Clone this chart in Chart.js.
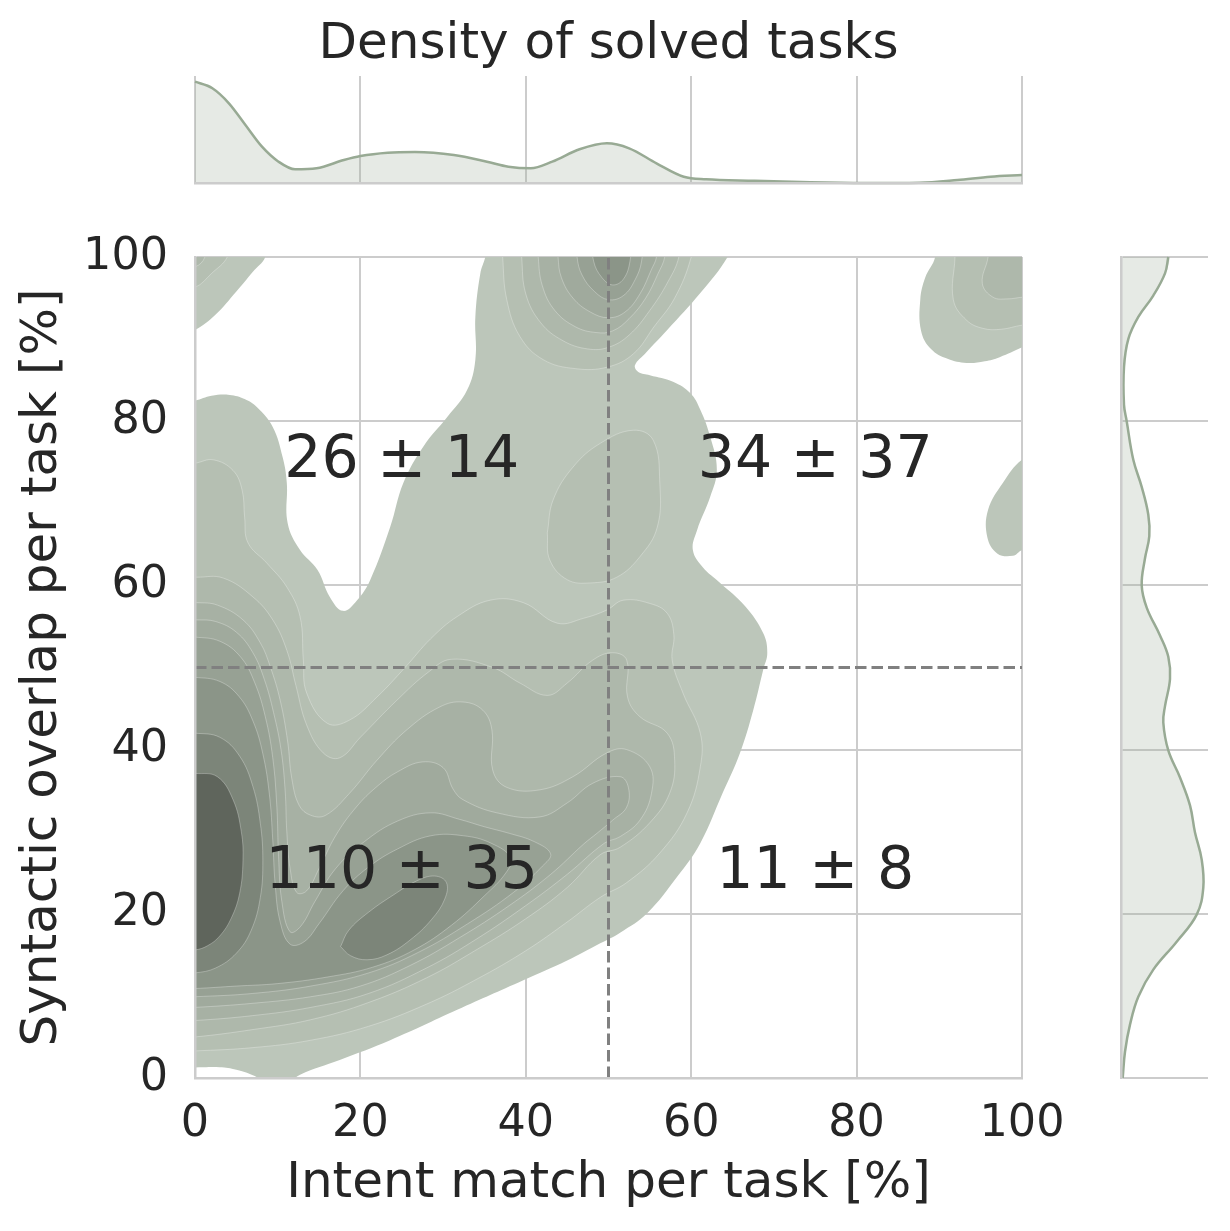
<!DOCTYPE html>
<html>
<head>
<meta charset="utf-8">
<title>Density of solved tasks</title>
<script src="https://cdn.jsdelivr.net/npm/chart.js@4.4.1/dist/chart.umd.min.js"></script>
<style>
  html, body { margin: 0; padding: 0; background: #ffffff; }
  #stage { position: relative; width: 1230px; height: 1231px; overflow: hidden; background: #ffffff; }
  #stage canvas { position: absolute; left: 0; top: 0; }
</style>
</head>
<body>
<div id="stage">
  <canvas id="mainChart" width="1230" height="1231"></canvas>
  <canvas id="topChart" width="1230" height="1231"></canvas>
  <canvas id="rightChart" width="1230" height="1231"></canvas>
</div>
<script>
// ---------------- data ----------------
const xTickValues = [0, 20, 40, 60, 80, 100];
const yTickValues = [0, 20, 40, 60, 80, 100];

const titleText = 'Density of solved tasks';
const xLabel = 'Intent match per task [%]';
const yLabel = 'Syntactic overlap per task [%]';

// quadrant annotations
const annX = [25, 75, 25, 75];
const annY = [75, 75, 25, 25];
const annText = ['26 \u00b1 14', '34 \u00b1 37', '110 \u00b1 35', '11 \u00b1 8'];

// split lines
const splitVX = [50, 50], splitVY = [0, 100];
const splitHX = [0, 100], splitHY = [50, 50];

// contour fill colours, level 1 (outer) .. level 9 (peak)
const levelColors = ['#bcc6ba', '#b5bfb2', '#aeb8ab', '#a7b1a4', '#a0aa9d', '#97a194', '#8b9588', '#7c8579', '#5f655c'];

// contour polygons [x, y]
const level1_main = [[-2,82.2],[0,82.5],[2,83.1],[4.2,83.2],[6,82.7],[7.5,81.7],[9.4,79.3],[10.6,75.6],[11.1,72.5],[11.2,67.6],[12.7,64.3],[14.8,61.9],[16.3,58.6],[17.9,56.9],[19.6,58.2],[21.2,60.7],[23.6,67.1],[25.2,72.5],[27.6,76.9],[30.5,80.5],[32.9,83.8],[33.9,87.5],[33.9,92.7],[34.5,98],[35.1,100],[35.3,101.5],[36,103],[50,103.5],[64,103],[64.6,101.5],[64.4,100],[61.1,95.6],[57.1,91.1],[54.5,88.3],[53.2,86.8],[53.6,86],[55,85.6],[57.8,84.8],[59.9,83.4],[61.1,81.4],[62.3,78.1],[63.1,74.1],[62.3,70.8],[60.7,66.7],[60.2,64.3],[61.4,62.2],[63.5,60.3],[66.5,57.5],[68.7,54.2],[69.2,51.8],[68.7,49.7],[67.5,44.8],[65.9,39.6],[63.8,34.7],[61.1,28.6],[58.3,24.5],[54.7,20.1],[51.4,17.7],[49,16.4],[45,14.3],[39.7,11.9],[31.7,8.3],[23.6,4.6],[17.5,2.2],[12.7,0.4],[10,-1.5],[7.5,0.1],[5,1],[3,1.3],[1,1.3],[-2,1.2]];
const level1_topLeft = [[-2,90.5],[0,91.1],[2.5,93],[5,95.8],[7,98.2],[8.5,100],[9.5,104],[-2,104]];
const level1_topRight = [[89.8,104],[89.5,100],[88.3,97.5],[87.7,94.8],[87.8,91],[89,88.8],[91,87.6],[93.3,87.1],[95.5,87.3],[97.3,87.8],[100,89],[103,90.5],[103,104]];
const level1_rightMid = [[103,76.5],[100,75.3],[97.7,72.5],[95.9,69.2],[95.8,65.9],[97,63.9],[98.9,63.6],[100,64.3],[103,65.5]];

const level2_main = [[-2,74.9],[0,74.9],[2.2,75.3],[4.6,74],[5.7,71.6],[6,68.3],[6.4,65.2],[8.7,62.7],[11.1,59.8],[12.7,56.2],[13.1,50.9],[13.5,46.9],[16,43.2],[18.7,43.6],[22,46.4],[25.4,50],[28.5,53.5],[31.7,56.2],[35.7,58.2],[39.7,57.9],[43.8,55.4],[47,56],[49.8,57],[51.8,58.2],[55,57.8],[57.1,56.6],[57.9,54],[57.7,50.9],[59,46.9],[61.1,42],[61.1,37.9],[59.5,32.3],[56.2,27.4],[52.2,23.8],[49,22],[45,19],[40,15.5],[34,12],[28,9],[21,6.3],[14,4.6],[7,3.7],[0,3.3],[-2,3.3]];
const level2_island = [[42.6,66.4],[43.3,70.4],[45.7,74.4],[49,77.3],[53,78.9],[55.4,77.7],[56.2,72.5],[55.9,67.1],[53.8,63.5],[51,61],[47.8,60.3],[45,60.7],[42.9,63.1],[42.6,66.4]];
const level2_peak = [[37,104],[37.2,100],[37.7,94.8],[39.3,90.3],[42.1,87.5],[46,86.4],[49.9,86.6],[53,88.2],[55.5,91.5],[58,95],[60,100],[60.5,104]];
const level2_topLeft = [[-2,96.3],[0,96.3],[2,98],[3.9,100],[4.5,103],[-2,103]];
const level2_topRight = [[92,104],[91.9,100],[91.7,94.8],[93.3,92.3],[95.3,91.3],[97.5,91.2],[100,91.7],[103,92],[103,104]];

const level3_main = [[-2,61],[0.2,61],[3.4,60.9],[7,58.6],[9.4,55.8],[11.1,52.1],[12.2,47.8],[13.5,43],[15.5,39.6],[17.5,39],[20,41.5],[24.4,46],[28.3,49.5],[31,51],[36,50],[39.3,48.1],[42.6,46.6],[45,48.1],[48.1,50.9],[50.5,51.8],[52.2,50.9],[52.3,46.4],[53.8,44],[57.1,42],[58,38.7],[57.4,34.7],[55,31.1],[51.4,28.1],[49,27.2],[45,23.2],[40,19.4],[34,15.6],[28,12.2],[21,9.2],[14,7.1],[7,5.9],[0,5],[-2,5]];
const level3_peak = [[39.3,104],[39.5,100],[40,95.5],[41.8,92],[44.5,89.8],[47.5,88.8],[50,89],[52.5,90.5],[55,93.5],[57.2,97],[58.5,100],[58.8,104]];
const level3_topLeft = [[-2,98.8],[0,98.8],[1.2,100],[1.6,103],[-2,103]];
const level3_topRight = [[96.2,104],[95.9,100],[95.2,96.8],[96.5,95.1],[98.3,94.9],[100,95.1],[103,95.3],[103,104]];

const level4_main = [[-2,57.9],[0.2,57.9],[2.7,57.6],[5.8,55.8],[7.9,53],[9.1,50.1],[10.3,46],[11.2,41],[11.7,36.5],[12.6,33.2],[14,32],[15.8,32],[18.7,34.7],[22,38.7],[25.6,42.4],[29.6,45.2],[32.4,45.8],[34.8,44.8],[35.9,42.4],[36,37.5],[37.7,35.4],[41.7,35.1],[45.7,36.7],[49.8,39.6],[52.2,40],[55,37.9],[55.2,34.7],[53.8,31.4],[51.4,29.4],[49.5,28.6],[45,24.8],[40,21],[34,16.9],[28,13.4],[21,10.3],[14,8.6],[7,7.6],[0,7],[-2,7]];
const level4_peak = [[41.3,104],[41.5,100],[42,96.5],[43.5,93.5],[46,91.5],[48.5,90.8],[50.5,91],[52.5,92.5],[54.5,95],[56,98],[56.8,100],[57.2,104]];

const level5_main = [[-2,55.8],[0.2,55.8],[2.5,55.6],[5,54.3],[7,51.8],[8.4,48.5],[9.5,44.5],[10.4,40],[10.9,35],[11.1,30],[11.5,25.5],[12.3,22.6],[13.5,22.8],[15,25.5],[17,29.5],[19.5,33],[22,35.5],[24.5,37.3],[27.5,38.5],[30,37.8],[31.2,35.2],[32.4,33.9],[36.5,32.3],[41.7,31.8],[45,33.5],[48.1,35.9],[51.4,36.7],[52.4,35.4],[52.2,33],[50.5,31.4],[48.6,29.8],[47,28.5],[43,24.8],[38,21],[32,17.1],[26,13.7],[20,11.2],[14,9.9],[7,9.1],[0,8.6],[-2,8.6]];
const level5_peak = [[43.7,104],[43.9,100],[44.3,97.5],[45.7,95],[47.8,93.3],[50,92.6],[52,93.3],[53.8,95.5],[55.2,98.5],[55.8,100],[56.1,104]];

const level6_main = [[-2,53.7],[0,53.7],[3,53.2],[5.5,51.3],[7.2,48.2],[8.5,44],[9.4,39],[9.9,33],[10.1,27],[10.5,21.5],[11.5,17.8],[12.8,18.5],[14.5,21.5],[17,25.5],[20.5,28.8],[24.5,31.3],[28.5,32.3],[32,31.5],[35,30.6],[38,29.8],[41,28.8],[43,27.3],[42,25.8],[38.5,22.6],[33,18.8],[27,15.3],[21,12.8],[14,11.2],[7,10.3],[0,9.9],[-2,9.9]];
const level6_peak = [[46,104],[46.2,100],[46.8,97.8],[48.3,95.8],[50,94.8],[51.8,95.3],[53.2,97.2],[54,99.5],[54.3,104]];

const level7_main = [[-2,48.8],[0,48.8],[3,48.3],[5.3,46.5],[7,43.5],[8.2,39.5],[9,34.5],[9.4,29],[9.7,23.5],[10.3,19],[11.5,16.3],[13.2,16.6],[15,18.8],[17.9,22.8],[21,25.7],[24.5,27.9],[28.5,29.5],[32.5,29.5],[35.8,28.6],[38.2,26.8],[37.6,25],[35,22.2],[31,18.6],[26.5,15.6],[21.5,13.5],[16,12.3],[10,11.5],[5,11.2],[0,10.9],[-2,10.9]];
const level7_peak = [[47.7,104],[48.2,99.5],[49.2,97.5],[50.5,96.6],[51.8,97.3],[52.6,99.5],[53,104]];

const level8_left = [[-2,42],[0,42],[3,41.5],[5.4,39.2],[7,35.5],[7.9,31],[8.2,26.5],[7.9,22],[6.8,18],[5,15.2],[2.5,13.4],[0,12.8],[-2,12.8]];
const level8_ridge = [[17.6,16],[18.8,14.9],[20.8,14.4],[23.2,15],[26,16.8],[28.6,19.3],[30.2,21.8],[30.4,23.8],[29,24.6],[26.8,24],[24,22.3],[21,20.2],[18.6,18],[17.6,16]];

const level9_left = [[-2,37.1],[0,37.1],[2.7,36.7],[4.6,33.9],[5.6,30],[5.8,26.5],[5.4,22.5],[4.4,19.5],[3,17.3],[1.5,16.1],[0,15.6],[-2,15.6]];

// which level each contour belongs to
const contourShapes = [
  [1, level1_main], [1, level1_topLeft], [1, level1_topRight], [1, level1_rightMid],
  [2, level2_main], [2, level2_island], [2, level2_peak], [2, level2_topLeft], [2, level2_topRight],
  [3, level3_main], [3, level3_peak], [3, level3_topLeft], [3, level3_topRight],
  [4, level4_main], [4, level4_peak],
  [5, level5_main], [5, level5_peak],
  [6, level6_main], [6, level6_peak],
  [7, level7_main], [7, level7_peak],
  [8, level8_left], [8, level8_ridge],
  [9, level9_left]
];

// marginal densities (heights)
const topMargX = [0,2.1,4.1,6.1,8.1,10.1,12.1,14.7,18,20,23.3,26.6,31.3,35.3,37.9,40.6,43.2,46.5,49.8,52.5,55.8,59.1,61.8,67.7,74.4,81,87.6,92.2,96.2,100];
const topMargH = [101.3,94.7,79.7,58,36.3,21.3,13.7,14.7,23,27,30.3,31,28,21.3,16.3,14.7,21.3,33.7,39.7,34.7,19.7,6.3,3.7,2.3,0.7,0,0.3,3,6.3,8];

const rightMargY = [100,98,95.3,92.7,90,86.6,82,80,75.3,72,68.6,66,63.3,60,57.3,53.9,51.3,48.6,45.3,43.3,39.9,36.6,33.2,29.9,26.6,23.2,19.9,16.6,13.2,9.9,6.5,3.2,0];
const rightMargW = [47.3,44,32.3,17.3,7.3,3,3,5.7,12.3,20.7,27.3,28.3,24,20.7,25.7,39,47.3,49,44,42.3,47.3,59,69,74,80.7,82.3,75.7,55.7,32.3,17.3,9,4,1.7];

// ---------------- styling / charts ----------------
const FONT = "'DejaVu Sans', 'Liberation Sans', sans-serif";
Chart.defaults.font.family = FONT;
Chart.defaults.color = '#262626';

const GRID = '#cccccc';
const margLine = '#98aa94';
const margFill = 'rgba(154,172,150,0.25)';

// fills closed polygons drawn by line datasets (path computed by Chart.js from its scales)
const polygonFill = {
  id: 'polygonFill',
  beforeDatasetDraw(chart, args) {
    const ds = chart.data.datasets[args.index];
    if (!ds.polygon) return;
    const line = args.meta.dataset;
    if (!line || !line.points || !line.points.length) return;
    const ctx = chart.ctx, a = chart.chartArea;
    line.updateControlPoints(a, 'x');
    ctx.save();
    ctx.beginPath();
    ctx.rect(a.left, a.top, a.right - a.left, a.bottom - a.top);
    ctx.clip();
    ctx.beginPath();
    line.path(ctx);
    ctx.closePath();
    ctx.fillStyle = ds.polygonColor;
    ctx.fill();
    ctx.restore();
  }
};

const quadrantLabels = {
  id: 'quadrantLabels',
  afterDatasetsDraw(chart) {
    const ctx = chart.ctx, xs = chart.scales.x, ys = chart.scales.y;
    ctx.save();
    ctx.font = '58.5px ' + FONT;
    ctx.fillStyle = '#262626';
    ctx.textAlign = 'center';
    ctx.textBaseline = 'middle';
    annText.forEach((t, i) => ctx.fillText(t, xs.getPixelForValue(annX[i]), ys.getPixelForValue(annY[i])));
    ctx.restore();
  }
};

const toPts = arr => arr.map(p => ({x: p[0], y: p[1]}));

const contourDatasets = contourShapes.map(([lvl, pts]) => ({
  data: toPts(pts),
  polygon: true,
  polygonColor: levelColors[lvl - 1],
  backgroundColor: levelColors[lvl - 1],
  borderColor: lvl > 1 ? 'rgba(255,255,255,0.28)' : 'rgba(0,0,0,0)',
  borderWidth: lvl > 1 ? 1 : 0,
  pointRadius: 0,
  tension: 0.4,
  capBezierPoints: false,
  fill: false,
  clip: 0,
  order: 100 - lvl
}));

const splitDatasets = [
  {data: splitVX.map((x, i) => ({x, y: splitVY[i]})), borderColor: '#808080', borderWidth: 3, borderDash: [11.5, 5], pointRadius: 0, fill: false, clip: 0, order: 0},
  {data: splitHX.map((x, i) => ({x, y: splitHY[i]})), borderColor: '#808080', borderWidth: 3, borderDash: [11.5, 5], pointRadius: 0, fill: false, clip: 0, order: 0}
];

const tickFont = {size: 44.5, family: FONT};
const labelFont = {size: 50, family: FONT};
const setTicks = vals => (s => { s.ticks = vals.map(v => ({value: v})); });

new Chart(document.getElementById('mainChart'), {
  type: 'line',
  data: {datasets: contourDatasets.concat(splitDatasets)},
  options: {
    responsive: false, animation: false, events: [], devicePixelRatio: 1,
    layout: {padding: {left: 0, right: 208, top: 257, bottom: 0}},
    plugins: {legend: {display: false}, tooltip: {enabled: false}},
    scales: {
      x: {
        type: 'linear', position: 'bottom', min: 0, max: 100,
        afterBuildTicks: setTicks(xTickValues),
        ticks: {padding: 20, color: '#262626', font: tickFont, maxRotation: 0, autoSkip: false},
        grid: {color: GRID, lineWidth: 2, drawTicks: false},
        border: {display: true, color: GRID, width: 2.5, z: 1},
        title: {display: true, text: xLabel, color: '#262626', font: labelFont, padding: {top: 0, bottom: 17}},
        afterFit(s) { s.height = 153; }
      },
      y: {
        type: 'linear', position: 'left', min: 0, max: 100,
        afterBuildTicks: setTicks(yTickValues),
        ticks: {padding: 27, color: '#262626', font: tickFont, autoSkip: false},
        grid: {color: GRID, lineWidth: 2, drawTicks: false},
        border: {display: true, color: GRID, width: 2.5, z: 1},
        title: {display: true, text: yLabel, color: '#262626', font: labelFont, padding: {top: 13, bottom: 0}},
        afterFit(s) { s.width = 195; }
      }
    }
  },
  plugins: [polygonFill, quadrantLabels]
});

new Chart(document.getElementById('topChart'), {
  type: 'line',
  data: {datasets: [{
    data: topMargX.map((x, i) => ({x, y: topMargH[i]})),
    fill: 'origin', backgroundColor: margFill, borderColor: margLine, borderWidth: 2.5,
    pointRadius: 0, cubicInterpolationMode: 'monotone', clip: 3
  }]},
  options: {
    responsive: false, animation: false, events: [], devicePixelRatio: 1,
    layout: {padding: {left: 195, right: 208, top: 0, bottom: 1048}},
    plugins: {
      legend: {display: false}, tooltip: {enabled: false},
      title: {display: true, text: titleText, color: '#262626', font: {size: 50, weight: 'normal', family: FONT}, padding: {top: 15, bottom: 1}}
    },
    scales: {
      x: {
        type: 'linear', min: 0, max: 100,
        afterBuildTicks: setTicks(xTickValues),
        ticks: {display: false},
        grid: {color: GRID, lineWidth: 2, drawTicks: false},
        border: {display: true, color: GRID, width: 2.5, z: 1},
        afterFit(s) { s.height = 0; }
      },
      y: {type: 'linear', display: false, min: 0, max: 107}
    }
  }
});

const rightCurve = rightMargY.map((y, i) => ({x: rightMargW[i], y}));
new Chart(document.getElementById('rightChart'), {
  type: 'line',
  data: {datasets: [
    {data: [{x: 0, y: rightMargY[0]}].concat(rightCurve, [{x: 0, y: rightMargY[rightMargY.length - 1]}]),
     polygon: true, polygonColor: margFill, backgroundColor: margFill, borderWidth: 0, borderColor: 'rgba(0,0,0,0)',
     pointRadius: 0, tension: 0.3, capBezierPoints: false, fill: false, clip: 0, order: 1},
    {data: rightCurve, borderColor: margLine, borderWidth: 2.5, pointRadius: 0, tension: 0.4,
     capBezierPoints: false, fill: false, clip: 3, order: 0}
  ]},
  options: {
    responsive: false, animation: false, events: [], devicePixelRatio: 1,
    layout: {padding: {left: 1121, right: 22, top: 257, bottom: 153}},
    plugins: {legend: {display: false}, tooltip: {enabled: false}},
    scales: {
      x: {type: 'linear', display: false, min: 0, max: 87},
      y: {
        type: 'linear', min: 0, max: 100,
        afterBuildTicks: setTicks(yTickValues),
        ticks: {display: false},
        grid: {color: GRID, lineWidth: 2, drawTicks: false},
        border: {display: true, color: GRID, width: 2.5, z: 1},
        afterFit(s) { s.width = 0; }
      }
    }
  },
  plugins: [polygonFill]
});
</script>
</body>
</html>
